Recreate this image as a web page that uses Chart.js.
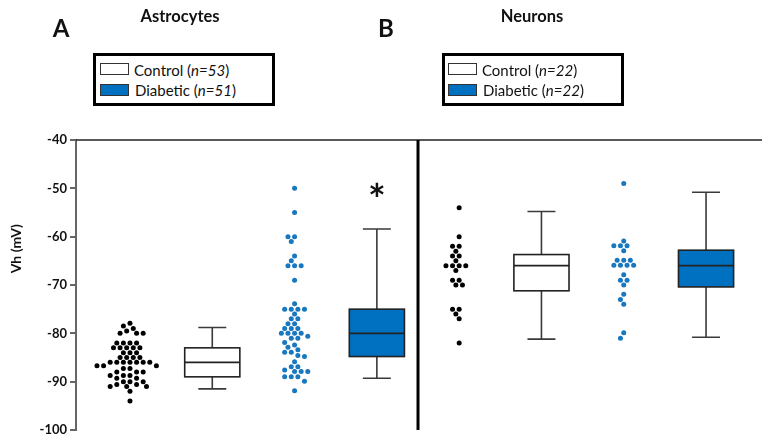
<!DOCTYPE html>
<html>
<head>
<meta charset="utf-8">
<script src="https://cdn.jsdelivr.net/npm/chart.js@4/dist/chart.umd.min.js"></script>
<style>
  body { margin: 0; background: #fff; font-family: Lato, "Open Sans", sans-serif; }
  #wrap { position: relative; width: 769px; height: 445px; }
  canvas { position: absolute; left: 0; top: 0; }
  .lbl { position: absolute; transform: translate(-50%, -50%); white-space: nowrap; font-weight: bold; color: #111; }
  .legend { position: absolute; box-sizing: border-box; border: 3px solid #000; background: #fff; }
  .sw { position: absolute; box-sizing: border-box; border: 1px solid #333; width: 29px; height: 12px; }
  .lt { position: absolute; font-size: 15px; line-height: 15px; color: #111; white-space: nowrap; }
</style>
</head>
<body>
<div id="wrap">
  <canvas id="myChart" width="769" height="445"></canvas>
  <div class="lbl" style="left:61px;top:27px;font-size:24px">A</div>
  <div class="lbl" style="left:180px;top:16px;font-size:16.5px">Astrocytes</div>
  <div class="lbl" style="left:386px;top:27px;font-size:24px">B</div>
  <div class="lbl" style="left:532px;top:16px;font-size:16.5px">Neurons</div>

  <div class="legend" style="left:93px;top:53px;width:182px;height:53px"></div>
  <div class="sw" style="left:100px;top:63px;background:#fff"></div>
  <div class="lt" style="left:134px;top:63px">Control (<i>n=53</i>)</div>
  <div class="sw" style="left:100px;top:84px;background:#0070c0"></div>
  <div class="lt" style="left:135px;top:83px">Diabetic (<i>n=51</i>)</div>

  <div class="legend" style="left:442px;top:53px;width:182px;height:53px"></div>
  <div class="sw" style="left:448px;top:63px;background:#fff"></div>
  <div class="lt" style="left:482px;top:63px">Control (<i>n=22</i>)</div>
  <div class="sw" style="left:448px;top:84px;background:#0070c0"></div>
  <div class="lt" style="left:483px;top:83px">Diabetic (<i>n=22</i>)</div>
</div>
<script>
// groups, left to right
var groups = ['Astrocytes Control', 'Astrocytes Diabetic', 'Neurons Control', 'Neurons Diabetic']
var dotPos = [1, 3, 5, 7]
var boxPos = [2, 4, 6, 8]

// single cells, Vh in mV
var astroControl = [-77.9, -78.5, -79.0, -79.5, -80, -80, -80,
  -82, -82, -82, -82, -83, -83, -83, -83, -83, -84, -84, -84,
  -85, -85, -85, -85, -86, -86, -86, -86, -86, -86, -86,
  -86.7, -86.7, -86.7, -87.3, -87.3, -88, -88, -88, -88.7, -88.7, -88.7,
  -89.3, -89.3, -90, -90, -90, -90.6, -90.6, -91, -91, -91, -92, -94]
var astroDiabetic = [-50, -55, -60, -60, -61, -64, -65, -66, -66, -66, -69,
  -73.9, -75, -75, -75, -75, -76, -77, -77, -78, -78, -79, -79, -79,
  -80, -80, -80, -80, -80.6, -81, -81, -81.9, -82.4, -82.9, -83.4, -83.9, -83.9,
  -84.6, -84.8, -85.9, -86.9, -86.9, -87.6, -87.9, -87.9, -87.9,
  -89, -89, -89, -89.9, -91.9]
var neuronControl = [-54, -60, -62, -62, -63, -64, -64, -65, -66, -66, -66, -66,
  -67, -69, -69, -70, -70, -75, -75, -76, -77, -82]
var neuronDiabetic = [-49, -60.9, -61.9, -61.9, -61.9, -62.9, -64.9, -64.9, -64.9,
  -65.9, -65.9, -65.9, -65.9, -67.9, -69, -69, -70, -71.9, -73, -74, -79.9, -81]

// box plot summaries
var whiskerHigh = [-78.8, -58.4, -54.8, -50.8]
var q3 = [-83.0, -75.0, -63.7, -62.8]
var median = [-86.0, -80.0, -66.0, -66.0]
var q1 = [-89.0, -84.8, -71.2, -70.4]
var whiskerLow = [-91.5, -89.3, -81.2, -80.8]

var yTicks = [-40, -50, -60, -70, -80, -90, -100]

var BLUE = '#0070c0'
var DOTBLUE = '#1777bf'
var boxFill = ['#ffffff', BLUE, '#ffffff', BLUE]

var extras = {
  id: 'extras',
  afterDatasetsDraw: function(chart) {
    var ctx = chart.ctx, x = chart.scales.x, y = chart.scales.y
    var area = chart.chartArea
    ctx.save()
    // boxes
    for (var i = 0; i < boxPos.length; i++) {
      var cx = x.getPixelForValue(boxPos[i])
      var half = x.getPixelForValue(boxPos[i] + 0.335) - cx
      var cap = x.getPixelForValue(boxPos[i] + 0.17) - cx
      var yH = y.getPixelForValue(whiskerHigh[i]), yL = y.getPixelForValue(whiskerLow[i])
      var y3 = y.getPixelForValue(q3[i]), y1 = y.getPixelForValue(q1[i]), yM = y.getPixelForValue(median[i])
      ctx.strokeStyle = '#3a3a3a'
      ctx.lineWidth = 1.6
      ctx.beginPath()
      ctx.moveTo(cx, yH); ctx.lineTo(cx, y3)
      ctx.moveTo(cx, y1); ctx.lineTo(cx, yL)
      ctx.moveTo(cx - cap, yH); ctx.lineTo(cx + cap, yH)
      ctx.moveTo(cx - cap, yL); ctx.lineTo(cx + cap, yL)
      ctx.stroke()
      ctx.fillStyle = boxFill[i]
      ctx.fillRect(cx - half, y3, half * 2, y1 - y3)
      ctx.strokeStyle = '#222'
      ctx.strokeRect(cx - half, y3, half * 2, y1 - y3)
      ctx.beginPath()
      ctx.moveTo(cx - half, yM); ctx.lineTo(cx + half, yM)
      ctx.stroke()
    }
    // top line at -40
    ctx.strokeStyle = '#222'
    ctx.lineWidth = 1.5
    ctx.beginPath()
    ctx.moveTo(area.left, y.getPixelForValue(-40))
    ctx.lineTo(area.right, y.getPixelForValue(-40))
    ctx.stroke()
    // divider between panels
    ctx.strokeStyle = '#000'
    ctx.lineWidth = 3
    ctx.beginPath()
    ctx.moveTo(x.getPixelForValue(4.5), y.getPixelForValue(-40))
    ctx.lineTo(x.getPixelForValue(4.5), y.getPixelForValue(-100))
    ctx.stroke()
    // significance star
    ctx.fillStyle = '#111'
    ctx.font = 'bold 42px Lato'
    ctx.textAlign = 'center'
    ctx.textBaseline = 'alphabetic'
    var m = ctx.measureText('*')
    var yc = y.getPixelForValue(-50.3)
    ctx.fillText('*', x.getPixelForValue(4), yc + (m.actualBoundingBoxAscent - m.actualBoundingBoxDescent) / 2)
    // axis title
    ctx.translate(16, y.getPixelForValue(-62.5))
    ctx.rotate(-Math.PI / 2)
    ctx.font = 'bold 14px Lato'
    ctx.textBaseline = 'middle'
    ctx.fillText('Vh (mV)', 0, 0)
    ctx.restore()
  }
}

function dotSet(values, pos, color) {
  return {
    type: 'scatter',
    data: values.map(function(v) { return {x: pos, y: v} }),
    backgroundColor: color,
    borderWidth: 0,
    pointRadius: 2.5,
    pointHoverRadius: 2.5
  }
}

var ctx = document.getElementById('myChart').getContext('2d')
var chart = new Chart(ctx, {
  type: 'scatter',
  data: {
    datasets: [
      dotSet(astroControl, dotPos[0], '#000'),
      dotSet(astroDiabetic, dotPos[1], DOTBLUE),
      dotSet(neuronControl, dotPos[2], '#000'),
      dotSet(neuronDiabetic, dotPos[3], DOTBLUE)
    ]
  },
  options: {
    responsive: false,
    animation: false,
    layout: { padding: { top: 140, bottom: 15, right: 7, left: 0 } },
    plugins: { legend: { display: false }, tooltip: { enabled: false } },
    scales: {
      x: { type: 'linear', display: false, min: 0.344, max: 8.68 },
      y: {
        min: -100, max: -40,
        afterFit: function(scale) { scale.width = 76 },
        afterBuildTicks: function(scale) { scale.ticks = yTicks.map(function(v) { return {value: v} }) },
        border: { color: '#666', width: 2 },
        grid: { drawOnChartArea: false, color: '#666', lineWidth: 2, tickLength: 6 },
        ticks: { color: '#111', padding: 3, font: { family: 'Lato', weight: 'bold', size: 13 } }
      }
    }
  },
  plugins: [extras]
})

// lay the dots out as a beeswarm around each group's centre
function swarm(values, pos) {
  var xs = chart.scales.x, ys = chart.scales.y
  var cx = xs.getPixelForValue(pos)
  var D = 5.7, h = 3.3
  var placed = []
  var sorted = values.slice().sort(function(a, b) { return b - a })
  return sorted.map(function(v) {
    var py = ys.getPixelForValue(v)
    var off = 0
    for (var k = 0; k < 80; k++) {
      var cand = k === 0 ? 0 : (k % 2 === 1 ? -1 : 1) * Math.ceil(k / 2) * h
      var hit = placed.some(function(p) {
        var dx = p.x - cand, dy = p.y - py
        return dx * dx + dy * dy < D * D
      })
      if (!hit) { off = cand; break }
    }
    placed.push({x: off, y: py})
    return {x: xs.getValueForPixel(cx + off), y: v}
  })
}

var allDots = [astroControl, astroDiabetic, neuronControl, neuronDiabetic]
allDots.forEach(function(vals, i) {
  chart.data.datasets[i].data = swarm(vals, dotPos[i])
})
chart.update('none')
</script>
</body>
</html>
